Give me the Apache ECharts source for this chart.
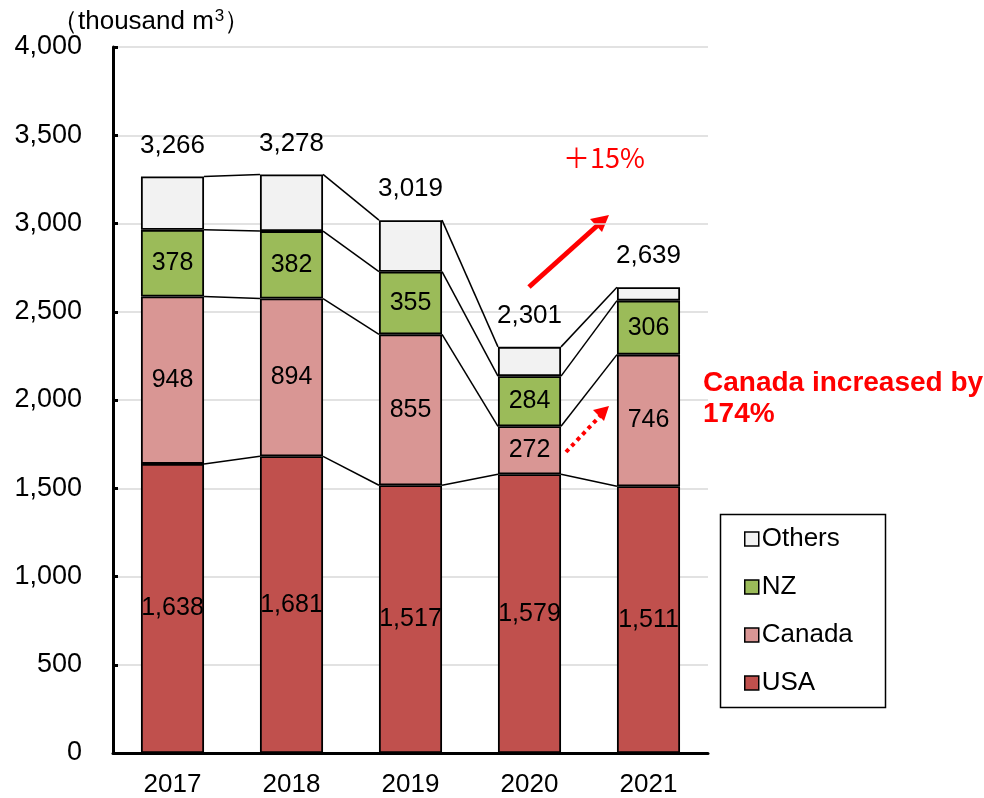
<!DOCTYPE html>
<html>
<head>
<meta charset="utf-8">
<script src="https://cdn.jsdelivr.net/npm/echarts@6/dist/echarts.min.js"></script>
<style>html,body{margin:0;padding:0;background:#fff;}#c{width:984px;height:798px;}</style>
</head>
<body>
<div id="c"></div>
<script>
const years = ['2017', '2018', '2019', '2020', '2021'];
const usa = [1638, 1681, 1517, 1579, 1511];
const canada = [948, 894, 855, 272, 746];
const nz = [378, 382, 355, 284, 306];
const totals = [3266, 3278, 3019, 2301, 2639];
const others = totals.map((t, i) => t - usa[i] - canada[i] - nz[i]);
const yTicks = [0, 500, 1000, 1500, 2000, 2500, 3000, 3500, 4000];

const FONT = 'Liberation Sans, Arial, sans-serif';
const fmt = v => Number(v).toLocaleString('en-US');

const cum1 = usa.slice();
const cum2 = usa.map((v, i) => v + canada[i]);
const cum3 = cum2.map((v, i) => v + nz[i]);
const cum4 = totals.slice();
const levels = [cum1, cum2, cum3, cum4];

const barW = 0.53;
const chart = echarts.init(document.getElementById('c'));

function barSeries(name, data, color, showLabel) {
  return {
    name, type: 'bar', stack: 'total', data, barWidth: (barW * 100) + '%',
    itemStyle: { color, borderColor: '#000', borderWidth: 1.8 },
    label: showLabel ? { show: true, position: 'inside', color: '#000', fontSize: 25, fontFamily: FONT, formatter: p => fmt(p.value) } : { show: false },
    emphasis: { disabled: true }, animation: false
  };
}

const othersSeries = barSeries('Others', others, '#F2F2F2', false);
othersSeries.label = {
  show: true, position: 'top', distance: 18, color: '#000', fontSize: 26, fontFamily: FONT,
  formatter: p => fmt(totals[p.dataIndex])
};

const option = {
  animation: false,
  grid: { left: 113, right: 276, top: 47, bottom: 44, containLabel: false },
  xAxis: {
    type: 'category', data: years,
    axisLine: { show: true, lineStyle: { color: '#000', width: 3 } },
    axisTick: { show: false },
    axisLabel: { color: '#000', fontSize: 26, fontFamily: FONT, margin: 19 }
  },
  yAxis: {
    type: 'value', min: yTicks[0], max: yTicks[yTicks.length - 1], interval: 500,
    axisLine: { show: true, lineStyle: { color: '#000', width: 3 } },
    axisTick: { show: true, inside: true, length: 5, lineStyle: { color: '#000', width: 3 } },
    splitLine: { show: true, lineStyle: { color: '#d9d9d9', width: 1.5 } },
    axisLabel: { color: '#000', fontSize: 27, fontFamily: FONT, margin: 31, formatter: v => fmt(v) }
  },
  legend: {
    data: ['Others', 'NZ', 'Canada', 'USA'],
    orient: 'vertical', left: 739, top: 521,
    icon: 'rect',
    itemWidth: 14, itemHeight: 14, itemGap: 22,
    textStyle: { color: '#000', fontSize: 26, fontFamily: FONT, padding: [0, 0, 0, -2] },
    itemStyle: { borderColor: '#000', borderWidth: 1.5 },
    selectedMode: false
  },
  graphic: [
    { type: 'rect', left: 718, top: 512, shape: { width: 165, height: 193 }, style: { fill: 'none', stroke: '#000', lineWidth: 1.5 }, z: 100 },
    { type: 'text', left: 52, top: 8, style: {
        text: '{a|（thousand m}{s|3}{a|）}',
        rich: {
          a: { fill: '#000', fontSize: 26, fontFamily: FONT, verticalAlign: 'bottom' },
          s: { fill: '#000', fontSize: 17, fontFamily: FONT, verticalAlign: 'bottom', padding: [0, 0, 10, 1] }
        }
      } },
    { type: 'text', left: 563, top: 144, style: { text: '＋15%', fill: '#ff0000', font: '27px "Noto Sans CJK JP", ' + FONT } },
    { type: 'text', left: 703, top: 368, style: { text: 'Canada increased by\n174%', fill: '#ff0000', font: 'bold 28px ' + FONT, lineHeight: 31 } },
    { type: 'line', shape: { x1: 529, y1: 287, x2: 598, y2: 225 }, style: { stroke: '#ff0000', lineWidth: 5 } },
    { type: 'polygon', shape: { points: [[609, 215], [590, 219], [602, 232]] }, style: { fill: '#ff0000' } },
    { type: 'line', shape: { x1: 566, y1: 452, x2: 600, y2: 416 }, style: { stroke: '#ff0000', lineWidth: 4, lineDash: [4, 4] } },
    { type: 'polygon', shape: { points: [[609, 406], [593, 410], [604, 421]] }, style: { fill: '#ff0000' } }
  ],
  series: [
    barSeries('USA', usa, '#C0504D', true),
    barSeries('Canada', canada, '#D99694', true),
    barSeries('NZ', nz, '#9BBB59', true),
    othersSeries,
    {
      type: 'custom', silent: true, z: 1,
      data: years.slice(0, years.length - 1).map((y, i) => [i, 0]),
      encode: { x: 0, y: 1 },
      renderItem: function (params, api) {
        const i = params.dataIndex;
        const half = api.size([1, 0])[0] * barW / 2;
        const children = levels.map(lv => {
          const p1 = api.coord([i, lv[i]]);
          const p2 = api.coord([i + 1, lv[i + 1]]);
          return { type: 'line', shape: { x1: p1[0] + half, y1: p1[1], x2: p2[0] - half, y2: p2[1] }, style: { stroke: '#000', lineWidth: 1.5 } };
        });
        return { type: 'group', children };
      }
    }
  ]
};
chart.setOption(option);
</script>
</body>
</html>
